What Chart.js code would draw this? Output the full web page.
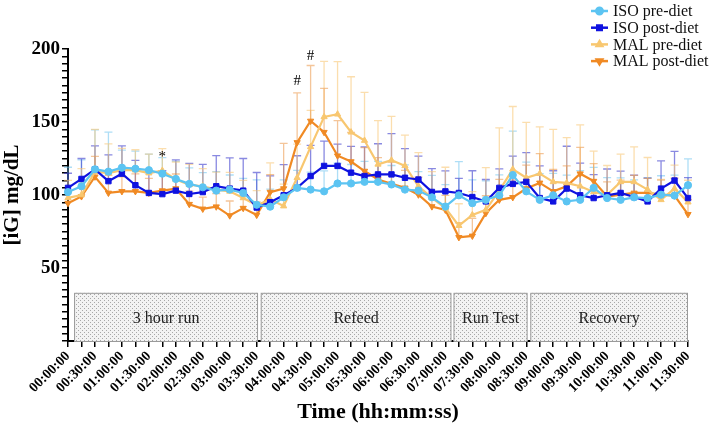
<!DOCTYPE html>
<html>
<head>
<meta charset="utf-8">
<script src="https://cdn.jsdelivr.net/npm/chart.js@4.4.1/dist/chart.umd.min.js"></script>
<style>
  html, body { margin: 0; padding: 0; background: #fff; }
  #wrap { width: 709px; height: 430px; }
</style>
</head>
<body>
<div id="wrap"><canvas id="chart" width="709" height="430"></canvas></div>
<script>
// ===== DATA =====
const timeLabels = [
  '00:00:00','00:15:00','00:30:00','00:45:00','01:00:00','01:15:00','01:30:00','01:45:00',
  '02:00:00','02:15:00','02:30:00','02:45:00','03:00:00','03:15:00','03:30:00','03:45:00',
  '04:00:00','04:15:00','04:30:00','04:45:00','05:00:00','05:15:00','05:30:00','05:45:00',
  '06:00:00','06:15:00','06:30:00','06:45:00','07:00:00','07:15:00','07:30:00','07:45:00',
  '08:00:00','08:15:00','08:30:00','08:45:00','09:00:00','09:15:00','09:30:00','09:45:00',
  '10:00:00','10:15:00','10:30:00','10:45:00','11:00:00','11:15:00','11:30:00'
];

const isoPre = [102,106,117.6,116,118.7,118,117,114.6,111,107.6,
  105.3,103,103.7,101.4,93.3,92,98.4,104.9,103.7,102.5,
  107.9,107.9,109,109,107.2,103.7,103,98.4,92.1,99.8,
  94.4,96.7,99.8,113.7,102.5,96.7,99.8,95.6,96.7,104.9,
  97.9,96.7,98.4,97.9,100.2,99.6,106.7];
const isoPreErr = [17,18,27,27,12,12,11,11,12,11,
  10,13,10,10,17,12,12,12,12,14,
  14,13,14,14,13,17,13,15,15,23,
  16,13,14,30,20,18,15,18,20,14,
  14,15,12,14,13,14,18];

const isoPost = [104.9,111,117.6,109.5,114.6,106.7,101.4,100.6,103,100.7,
  102,106,104.4,103,91.4,95.1,99.8,104.9,113,119.9,
  119.9,115.3,113,114.1,114.1,111.8,110.6,102.1,102.5,101.4,
  98.6,95.6,104.9,107.6,109,97.9,95.6,104.4,99.8,97.9,
  99.8,101.4,98.6,95.6,104.4,109.9,97.9];
const isoPostErr = [10,14,16,18,19,17,14,16,21,21,
  19,21,21,22,24,18,21,22,21,17,
  15,18,20,21,28,20,16,16,14,10,
  18,15,13,19,20,22,21,29,22,16,
  18,15,15,16,19,20,14];

const malPre = [98,100,116,115,117,117,115,116.7,110.6,107,
  106,103.7,102.5,98,93,97,92.4,111.8,133,153.5,
  155.3,143,137.3,121,123.8,120,106,98,91,79,
  86.3,89.8,103,117.6,111.8,114.6,109,108.3,106,102.1,
  100.2,109,109,103.7,96.7,104.4,95.1];
const malPreErr = [12,18,29,20,15,14,13,15,12,14,
  12,12,13,12,10,25,15,23,25,38,
  36,38,33,30,30,21,23,18,28,15,
  16,29,43,43,38,32,36,31,42,28,
  20,19,24,22,14,16,15];

const malPost = [94.4,99,112.5,101.4,102.5,102.5,101.4,103,104.4,93.7,
  90.5,92,85.9,91,86.3,102,104.4,136,150.7,143,
  126.9,122.9,116.4,110.6,107.6,104.9,100.2,92.1,89.8,71,
  72,87.5,96.7,98.4,104.4,108.3,102.5,106,114.6,109.5,
  99,100.2,101.4,101.4,100.2,99.6,86.8];
const malPostErr = [8,10,14,12,10,12,10,12,10,9,
  8,9,10,8,9,12,31,34,38,30,
  24,20,16,15,15,12,12,10,10,10,
  12,12,14,12,16,20,15,14,18,12,
  10,10,12,10,10,12,10];

// phases (in 15 min steps along the time axis)
const phaseNames = ['3 hour run', 'Refeed', 'Run Test', 'Recovery'];
const phaseStart = [0.45, 14.3, 28.6, 34.3];
const phaseEnd = [14.1, 28.45, 34.1, 46];
const phaseTop = 33;

// significance marks
const markText = ['*', '#', '#'];
const markIndex = [7, 17, 18];
const markValue = [126, 178, 195];

const FONT = "'Liberation Serif', 'DejaVu Serif', serif";

// ===== PLUGINS =====
function dotPattern(ctx) {
  const c = document.createElement('canvas');
  c.width = 4; c.height = 4;
  const p = c.getContext('2d');
  p.fillStyle = '#f3f3f3';
  p.fillRect(0, 0, 4, 4);
  p.fillStyle = '#a8a8a8';
  p.fillRect(0, 0, 1, 1);
  p.fillRect(2, 2, 1, 1);
  return ctx.createPattern(c, 'repeat');
}

const phasePlugin = {
  id: 'phases',
  beforeDatasetsDraw(chart) {
    const ctx = chart.ctx, x = chart.scales.x, y = chart.scales.y;
    const pat = dotPattern(ctx);
    ctx.save();
    phaseNames.forEach((name, i) => {
      const x0 = x.getPixelForValue(phaseStart[i]);
      const x1 = x.getPixelForValue(phaseEnd[i]);
      const y0 = y.getPixelForValue(phaseTop);
      const y1 = y.getPixelForValue(0);
      ctx.fillStyle = pat;
      ctx.fillRect(x0, y0, x1 - x0, y1 - y0);
      ctx.strokeStyle = '#9a9a9a';
      ctx.lineWidth = 1;
      ctx.strokeRect(x0 + 0.5, y0 + 0.5, x1 - x0 - 1, y1 - y0);
      ctx.fillStyle = '#222';
      ctx.font = '16px ' + FONT;
      ctx.textAlign = 'center';
      ctx.textBaseline = 'middle';
      ctx.fillText(name, (x0 + x1) / 2, y.getPixelForValue(phaseTop / 2) + 2);
    });
    ctx.restore();
  }
};

const errorBarPlugin = {
  id: 'errorBars',
  beforeDatasetsDraw(chart) {
    const ctx = chart.ctx, y = chart.scales.y;
    chart.data.datasets.forEach((ds, i) => {
      const meta = chart.getDatasetMeta(i);
      ctx.save();
      ctx.strokeStyle = ds.errColor;
      ctx.lineWidth = 1.3;
      meta.data.forEach((pt, j) => {
        const top = y.getPixelForValue(ds.data[j] + ds.errors[j]);
        ctx.beginPath();
        ctx.moveTo(pt.x, pt.y);
        ctx.lineTo(pt.x, top);
        ctx.moveTo(pt.x - 4, top);
        ctx.lineTo(pt.x + 4, top);
        ctx.stroke();
      });
      ctx.restore();
    });
  }
};

const marksPlugin = {
  id: 'marks',
  afterDatasetsDraw(chart) {
    const ctx = chart.ctx, x = chart.scales.x, y = chart.scales.y;
    ctx.save();
    ctx.fillStyle = '#000';
    ctx.font = '15px ' + FONT;
    ctx.textAlign = 'center';
    ctx.textBaseline = 'middle';
    markText.forEach((t, i) => {
      ctx.fillText(t, x.getPixelForValue(markIndex[i]), y.getPixelForValue(markValue[i]));
    });
    ctx.restore();
  }
};

const legendPlugin = {
  id: 'sideLegend',
  afterDraw(chart) {
    const ctx = chart.ctx;
    ctx.save();
    chart.data.datasets.forEach((ds, i) => {
      const ly = 11 + i * 16.7;
      ctx.strokeStyle = ds.borderColor;
      ctx.lineWidth = 2.5;
      ctx.beginPath();
      ctx.moveTo(591, ly);
      ctx.lineTo(608, ly);
      ctx.stroke();
      ctx.fillStyle = ds.borderColor;
      Chart.helpers.drawPoint(ctx, {
        pointStyle: ds.pointStyle, radius: 3.2, rotation: ds.pointRotation || 0, borderWidth: 1
      }, 599.5, ly);
      ctx.fillStyle = '#111';
      ctx.font = '16px ' + FONT;
      ctx.textAlign = 'left';
      ctx.textBaseline = 'middle';
      ctx.fillText(ds.label, 613, ly + 1);
    });
    ctx.restore();
  }
};

// ===== CHART =====
function series(label, data, errors, color, errColor, style, radius, rotation) {
  return {
    label, data, errors, errColor,
    borderColor: color, backgroundColor: color,
    pointBackgroundColor: color, pointBorderColor: color,
    borderWidth: 2.2, tension: 0,
    pointStyle: style, pointRadius: radius, pointRotation: rotation,
    pointBorderWidth: 1, pointHoverRadius: radius
  };
}

const axisFontSmall = { family: FONT, size: 14, weight: 'bold' };

new Chart(document.getElementById('chart'), {
  type: 'line',
  data: {
    labels: timeLabels,
    datasets: [
      series('ISO pre-diet', isoPre, isoPreErr, '#5cc4f2', 'rgba(120,200,240,0.6)', 'circle', 3.6, 0),
      series('ISO post-diet', isoPost, isoPostErr, '#0f12e0', 'rgba(40,40,200,0.55)', 'rect', 3.8, 0),
      series('MAL pre-diet', malPre, malPreErr, '#f8c770', 'rgba(248,200,120,0.6)', 'triangle', 3.6, 0),
      series('MAL post-diet', malPost, malPostErr, '#f08a24', 'rgba(235,150,70,0.55)', 'triangle', 3.6, 180)
    ]
  },
  options: {
    responsive: false,
    animation: false,
    layout: { padding: { top: 49, right: 21, left: 0, bottom: 0 } },
    plugins: {
      legend: { display: false },
      tooltip: { enabled: false }
    },
    scales: {
      x: {
        type: 'category',
        offset: false,
        border: { display: true, color: '#000', width: 2 },
        grid: { drawOnChartArea: false, drawTicks: true, tickLength: 6, color: '#000', lineWidth: 1.5 },
        ticks: {
          autoSkip: false, minRotation: 45, maxRotation: 45, color: '#000', padding: 1,
          font: axisFontSmall,
          callback(v, i) { return i % 2 === 0 ? this.getLabelForValue(v) : ''; }
        },
        title: {
          display: true, text: 'Time (hh:mm:ss)', color: '#000',
          font: { family: FONT, size: 22, weight: 'bold' }, padding: { top: 0, bottom: 4 }
        },
        afterFit(s) { s.height = 89; }
      },
      y: {
        min: 0, max: 200,
        border: { display: true, color: '#000', width: 2 },
        grid: { drawOnChartArea: false, drawTicks: true, tickLength: 6, color: '#000', lineWidth: 1.5 },
        ticks: {
          stepSize: 5, autoSkip: false, color: '#000', padding: 2,
          font: { family: FONT, size: 19, weight: 'bold' },
          callback: v => (v % 50 === 0 && v > 0) ? v : ''
        },
        title: {
          display: true, text: '[iG] mg/dL', color: '#000',
          font: { family: FONT, size: 21, weight: 'bold' }, padding: 0
        },
        afterFit(s) { s.width = 68; }
      }
    }
  },
  plugins: [phasePlugin, errorBarPlugin, marksPlugin, legendPlugin]
});
</script>
</body>
</html>
